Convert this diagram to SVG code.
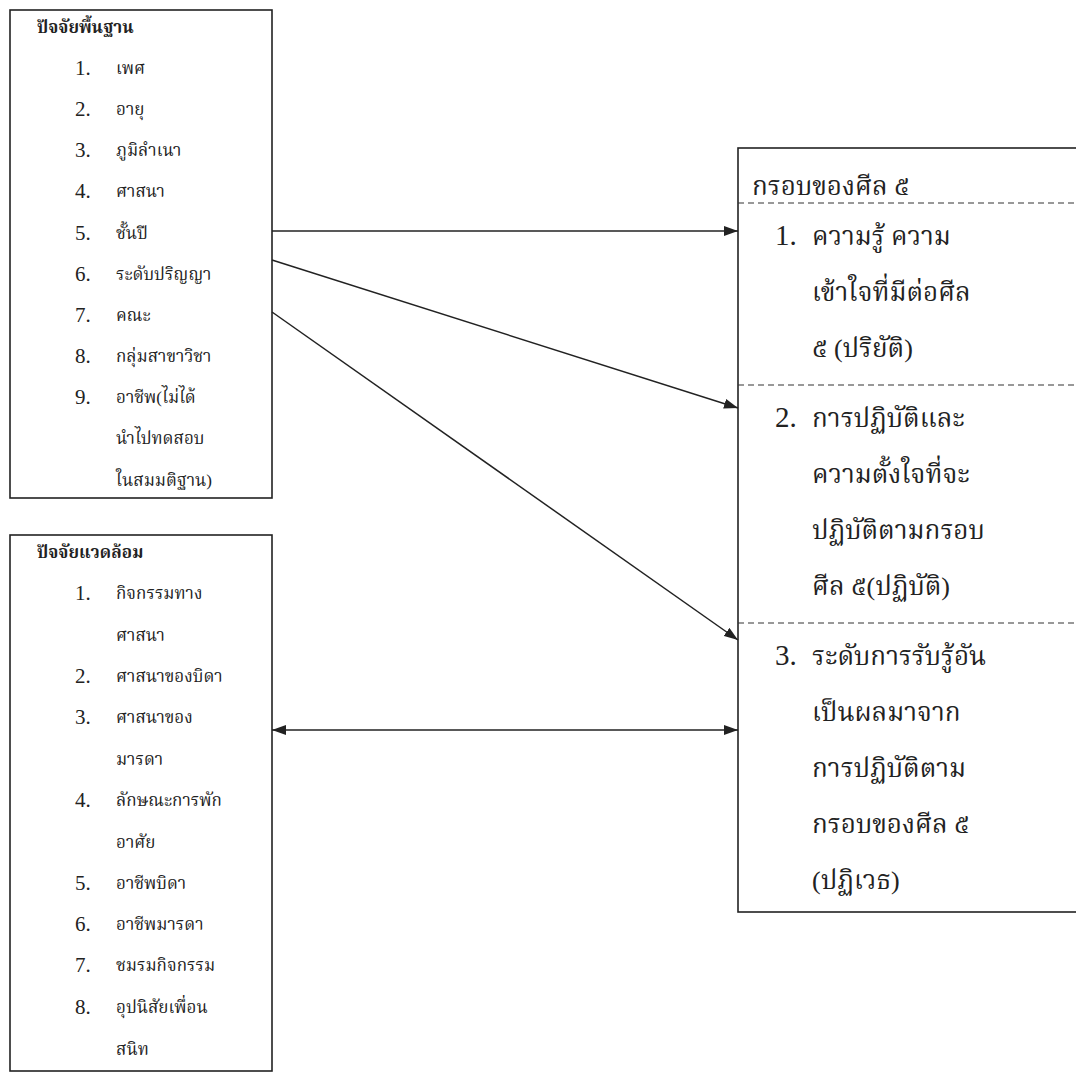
<svg xmlns="http://www.w3.org/2000/svg" width="1076" height="1074" viewBox="0 0 1076 1074">
<defs>
<style>
.box{fill:#fff;stroke:#222;stroke-width:1.6}
.dash{stroke:#333;stroke-width:1.2;stroke-dasharray:6 4;fill:none}
.conn{stroke:#222;stroke-width:1.5;fill:none}
.sm{font-family:"Liberation Serif","Noto Serif Thai","Noto Sans Thai",serif;font-size:17px;fill:#222}
.smt{font-family:"Liberation Serif","Noto Serif Thai","Noto Sans Thai",serif;font-size:17px;font-weight:bold;fill:#222}
.num{font-family:"Liberation Serif",serif;font-size:21px;fill:#222}
.lg{font-family:"Liberation Serif","Noto Serif Thai","Noto Sans Thai",serif;font-size:26px;fill:#222}
.lgn{font-family:"Liberation Serif",serif;font-size:29px;fill:#222}
</style>
<marker id="ah" viewBox="0 0 14 10" refX="14" refY="5" markerWidth="14" markerHeight="10" markerUnits="userSpaceOnUse" orient="auto-start-reverse">
<path d="M0,0 L14,5 L0,10 Z" fill="#222"/>
</marker>
</defs>
<rect width="1076" height="1074" fill="#fff"/>

<g id="basic-factors">
<rect class="box" x="10" y="10" width="262" height="488"/>
<text class="smt" x="37" y="33">ปัจจัยพื้นฐาน</text>
<text class="num" x="75" y="75">1.</text><text class="sm" x="116" y="74">เพศ</text>
<text class="num" x="75" y="116">2.</text><text class="sm" x="116" y="115">อายุ</text>
<text class="num" x="75" y="157">3.</text><text class="sm" x="116" y="156">ภูมิลำเนา</text>
<text class="num" x="75" y="198">4.</text><text class="sm" x="116" y="197">ศาสนา</text>
<text class="num" x="75" y="240">5.</text><text class="sm" x="116" y="239">ชั้นปี</text>
<text class="num" x="75" y="281">6.</text><text class="sm" x="116" y="280">ระดับปริญญา</text>
<text class="num" x="75" y="322">7.</text><text class="sm" x="116" y="321">คณะ</text>
<text class="num" x="75" y="363">8.</text><text class="sm" x="116" y="362">กลุ่มสาขาวิชา</text>
<text class="num" x="75" y="404">9.</text><text class="sm" x="116" y="403">อาชีพ(ไม่ได้</text>
<text class="sm" x="116" y="444">นำไปทดสอบ</text>
<text class="sm" x="116" y="486">ในสมมติฐาน)</text>
</g>

<g id="environment-factors">
<rect class="box" x="10" y="535" width="262" height="536"/>
<text class="smt" x="37" y="558">ปัจจัยแวดล้อม</text>
<text class="num" x="75" y="600">1.</text><text class="sm" x="116" y="599">กิจกรรมทาง</text>
<text class="sm" x="116" y="641">ศาสนา</text>
<text class="num" x="75" y="683">2.</text><text class="sm" x="116" y="682">ศาสนาของบิดา</text>
<text class="num" x="75" y="724">3.</text><text class="sm" x="116" y="723">ศาสนาของ</text>
<text class="sm" x="116" y="765">มารดา</text>
<text class="num" x="75" y="807">4.</text><text class="sm" x="116" y="806">ลักษณะการพัก</text>
<text class="sm" x="116" y="848">อาศัย</text>
<text class="num" x="75" y="890">5.</text><text class="sm" x="116" y="889">อาชีพบิดา</text>
<text class="num" x="75" y="931">6.</text><text class="sm" x="116" y="930">อาชีพมารดา</text>
<text class="num" x="75" y="972">7.</text><text class="sm" x="116" y="971">ชมรมกิจกรรม</text>
<text class="num" x="75" y="1014">8.</text><text class="sm" x="116" y="1013">อุปนิสัยเพื่อน</text>
<text class="sm" x="116" y="1055">สนิท</text>
</g>

<g id="precepts-frame">
<rect class="box" x="738" y="148" width="345" height="764"/>
<text class="lg" x="752" y="195">กรอบของศีล ๕</text>
<line class="dash" x1="738" y1="203" x2="1076" y2="203"/>
<text class="lgn" x="775" y="245">1.</text><text class="lg" x="812" y="245">ความรู้ ความ</text>
<text class="lg" x="812" y="301">เข้าใจที่มีต่อศีล</text>
<text class="lg" x="812" y="357">๕ (ปริยัติ)</text>
<line class="dash" x1="738" y1="385" x2="1076" y2="385"/>
<text class="lgn" x="775" y="427">2.</text><text class="lg" x="812" y="427">การปฏิบัติและ</text>
<text class="lg" x="812" y="483">ความตั้งใจที่จะ</text>
<text class="lg" x="812" y="539">ปฏิบัติตามกรอบ</text>
<text class="lg" x="812" y="595">ศีล ๕(ปฏิบัติ)</text>
<line class="dash" x1="738" y1="623" x2="1076" y2="623"/>
<text class="lgn" x="775" y="665">3.</text><text class="lg" x="812" y="665">ระดับการรับรู้อัน</text>
<text class="lg" x="812" y="721">เป็นผลมาจาก</text>
<text class="lg" x="812" y="777">การปฏิบัติตาม</text>
<text class="lg" x="812" y="833">กรอบของศีล ๕</text>
<text class="lg" x="812" y="889">(ปฏิเวธ)</text>
</g>

<g id="connectors">
<line class="conn" x1="272" y1="231" x2="738" y2="231" marker-end="url(#ah)"/>
<line class="conn" x1="272" y1="260" x2="738" y2="408" marker-end="url(#ah)"/>
<line class="conn" x1="272" y1="312" x2="738" y2="640" marker-end="url(#ah)"/>
<line class="conn" x1="272" y1="730" x2="738" y2="730" marker-start="url(#ah)" marker-end="url(#ah)"/>
</g>
</svg>
